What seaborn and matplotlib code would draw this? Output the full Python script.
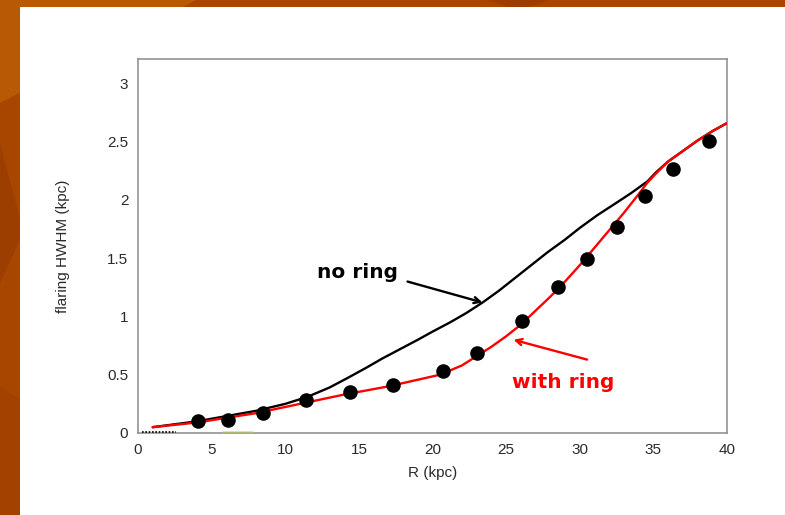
import numpy as np
import pandas as pd
import seaborn as sns
import matplotlib.pyplot as plt
from matplotlib.patches import Rectangle, Polygon

# Observed flaring (HWHM) of the disc versus galactocentric radius
r_obs = [4.1, 6.1, 8.5, 11.4, 14.4, 17.3, 20.7, 23.0, 26.1, 28.5, 30.5, 32.5, 34.4, 36.3, 38.8]
hwhm_obs = [0.10, 0.11, 0.17, 0.28, 0.35, 0.41, 0.53, 0.69, 0.96, 1.25, 1.49, 1.77, 2.03, 2.27, 2.51]

# Model without a ring
r_noring = [1, 4, 8, 10, 11.5, 13, 14.2, 15.5, 16.6, 17.8, 19, 20, 21.2, 22.3, 23.4, 24.5,
            25.5, 26.6, 27.8, 29, 30, 31.2, 32.3, 33.5, 34.6, 35.2, 36, 37, 38, 39, 40]
hwhm_noring = [0.05, 0.10, 0.19, 0.25, 0.31, 0.39, 0.47, 0.56, 0.64, 0.72, 0.80, 0.87,
               0.95, 1.03, 1.12, 1.22, 1.32, 1.43, 1.55, 1.66, 1.76, 1.87, 1.96, 2.06,
               2.16, 2.24, 2.33, 2.42, 2.51, 2.59, 2.66]

# Model with a ring
r_ring = [1, 4, 8, 11, 14, 17, 20.5, 22, 23, 24, 25, 26, 27, 28, 29, 30, 31, 32, 33, 34,
          34.6, 35.2, 36, 37, 38, 39, 40]
hwhm_ring = [0.05, 0.09, 0.17, 0.25, 0.33, 0.40, 0.50, 0.58, 0.66, 0.74, 0.83, 0.93, 1.05,
             1.17, 1.30, 1.44, 1.59, 1.74, 1.89, 2.05, 2.15, 2.23, 2.33, 2.42, 2.51, 2.59, 2.66]

x_ticks = [0, 5, 10, 15, 20, 25, 30, 35, 40]
y_ticks = [0, 0.5, 1, 1.5, 2, 2.5, 3]
y_tick_labels = ["0", "0.5", "1", "1.5", "2", "2.5", "3"]

obs = pd.DataFrame({"R": r_obs, "HWHM": hwhm_obs})
noring = pd.DataFrame({"R": r_noring, "HWHM": hwhm_noring})
ring = pd.DataFrame({"R": r_ring, "HWHM": hwhm_ring})

sns.set_theme(style="white")
plt.rcParams["font.family"] = ["Liberation Sans", "DejaVu Sans"]

fig = plt.figure(figsize=(7.85, 5.15), dpi=100)
fig.patch.set_facecolor("#a84600")

# slide backdrop: orange frame with a few darker facets, white panel on top
for pts, col in [
    ([(0, 1), (0.25, 1), (0.0, 0.8)], "#b85a04"),
    ([(0.0, 0.72), (0.03, 0.55), (0.0, 0.45)], "#9c3e00"),
    ([(0.0, 0.25), (0.03, 0.22), (0.03, 0.0), (0.0, 0.0)], "#a34200"),
    ([(0.62, 1), (0.70, 1), (0.66, 0.98)], "#9a3d00"),
]:
    fig.patches.append(Polygon(pts, closed=True, transform=fig.transFigure,
                               facecolor=col, edgecolor="none", zorder=0))
fig.patches.append(Rectangle((20 / 785, 0), 1, (515 - 7) / 515, transform=fig.transFigure,
                             facecolor="white", edgecolor="none", zorder=1))

ax = fig.add_axes([138 / 785, 1 - 433 / 515, (727 - 138) / 785, (433 - 59) / 515])
ax.set_zorder(2)
ax.set_facecolor("white")

sns.lineplot(data=noring, x="R", y="HWHM", ax=ax, color="black", lw=1.7,
             sort=False, zorder=3)
sns.lineplot(data=ring, x="R", y="HWHM", ax=ax, color="#ff0000", lw=1.7,
             sort=False, zorder=4)
sns.scatterplot(data=obs, x="R", y="HWHM", ax=ax, color="black", s=110,
                edgecolor="black", linewidth=0, zorder=5)

# faint residue near the origin
ax.plot([0.3, 2.6], [0.008, 0.008], color="black", lw=1.2, ls=(0, (1, 1)), zorder=3)
ax.plot([5.8, 7.8], [0.012, 0.012], color="#c8c84a", lw=1.2, alpha=0.6, zorder=3)

ax.set_xlim(0, 40)
ax.set_ylim(0, 3.21)
ax.set_xticks(x_ticks)
ax.set_xticklabels([str(v) for v in x_ticks])
ax.set_yticks(y_ticks)
ax.set_yticklabels(y_tick_labels)
ax.tick_params(axis="both", direction="in", length=5, width=1, color="#555555",
               labelsize=11, labelcolor="#2a2a2a")
ax.tick_params(axis="x", pad=7)
ax.tick_params(axis="y", pad=7)
for sp in ax.spines.values():
    sp.set_color("#8a8a8a")
    sp.set_linewidth(1.1)

ax.set_xlabel("R (kpc)", fontsize=11, color="#2a2a2a", labelpad=7)
ax.set_ylabel("flaring HWHM (kpc)", fontsize=11, color="#2a2a2a", labelpad=27)

ax.text(14.9, 1.38, "no ring", ha="center", va="center", fontsize=14.5,
        fontweight="bold", color="black", family="DejaVu Sans", zorder=6)
ax.annotate("", xy=(23.4, 1.12), xytext=(18.3, 1.30),
            arrowprops=dict(arrowstyle="->", color="black", lw=1.7,
                            shrinkA=0, shrinkB=0, mutation_scale=11), zorder=6)
ax.text(28.9, 0.43, "with ring", ha="center", va="center", fontsize=14.5,
        fontweight="bold", color="#ff0000", family="DejaVu Sans", zorder=6)
ax.annotate("", xy=(25.5, 0.80), xytext=(30.5, 0.63),
            arrowprops=dict(arrowstyle="->", color="#ff0000", lw=1.7,
                            shrinkA=0, shrinkB=0, mutation_scale=11), zorder=6)

fig.savefig("out.png", dpi=100, facecolor=fig.get_facecolor())
